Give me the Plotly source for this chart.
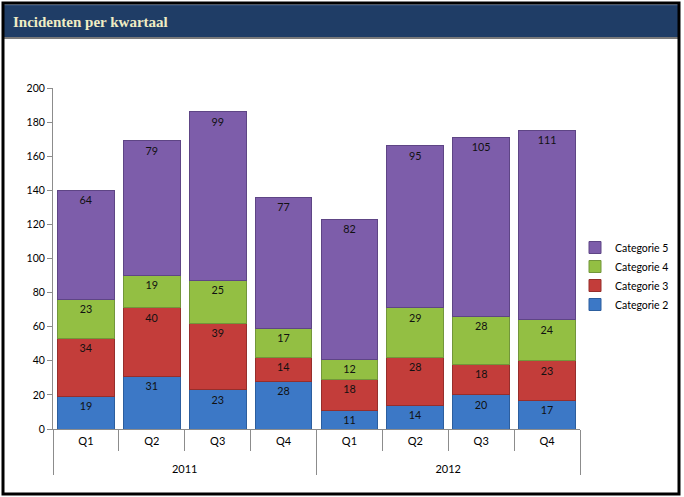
import plotly.graph_objects as go

years = ["2011"] * 4 + ["2012"] * 4
quarters = ["Q1", "Q2", "Q3", "Q4", "Q1", "Q2", "Q3", "Q4"]

cat2 = [19, 31, 23, 28, 11, 14, 20, 17]
cat3 = [34, 40, 39, 14, 18, 28, 18, 23]
cat4 = [23, 19, 25, 17, 12, 29, 28, 24]
cat5 = [64, 79, 99, 77, 82, 95, 105, 111]

series = [
    ("Categorie 2", cat2, "#3C78C6", "#2C5E9E"),
    ("Categorie 3", cat3, "#C33D3A", "#962E2B"),
    ("Categorie 4", cat4, "#93BF43", "#72963A"),
    ("Categorie 5", cat5, "#7D5DAA", "#5E4585"),
]

W, H = 684, 497
L, R, T, B = 53, 104, 88, 68
PW, PH = W - L - R, H - T - B


def px(x):
    return (x - L) / PW


def py(y):
    return (H - B - y) / PH


# outer level labels pushed one line lower, as in the reference
year_labels = ["<br>" + y for y in years]

fig = go.Figure()
for name, vals, col, edge in series:
    fig.add_trace(go.Bar(
        name=name,
        x=[year_labels, quarters],
        y=vals,
        text=[str(v) for v in vals],
        textposition="inside",
        insidetextanchor="end",
        textangle=0,
        textfont=dict(color="#111111", size=11, family="Lato, 'Open Sans', sans-serif"),
        marker=dict(color=col, line=dict(color=edge, width=1)),
        hoverinfo="skip",
    ))

fig.update_layout(
    barmode="stack",
    bargap=0.14,
    width=W,
    height=H,
    paper_bgcolor="white",
    plot_bgcolor="white",
    margin=dict(l=L, r=R, t=T, b=B, autoexpand=False),
    font=dict(family="Lato, 'Open Sans', sans-serif", size=11, color="#000000"),
    legend=dict(
        x=px(575), y=py(276), xanchor="left", yanchor="middle",
        traceorder="reversed",
        font=dict(size=10.5),
        itemwidth=30,
        bgcolor="rgba(0,0,0,0)",
    ),
    uniformtext=dict(minsize=8, mode="show"),
    showlegend=True,
)

fig.update_yaxes(
    range=[0, 200],
    dtick=20,
    showgrid=False,
    showline=True,
    linecolor="#8C8C8C",
    linewidth=1,
    ticks="outside",
    ticklen=5,
    tickcolor="#8C8C8C",
    tickfont=dict(size=10.5),
    zeroline=False,
    automargin=False,
)

fig.update_xaxes(
    type="multicategory",
    showline=True,
    linecolor="#8C8C8C",
    linewidth=1,
    ticks="outside",
    tickson="boundaries",
    ticklen=21,
    tickcolor="#8C8C8C",
    showdividers=True,
    dividercolor="#8C8C8C",
    dividerwidth=1,
    showgrid=False,
    tickfont=dict(size=11),
    ticklabelstandoff=2,
    automargin=False,
)

# Title banner
fig.add_shape(type="rect", xref="paper", yref="paper",
              x0=px(3), x1=px(679), y0=py(38), y1=py(5),
              fillcolor="#1F3D66", line=dict(color="#3E5F8A", width=1), layer="below")
fig.add_shape(type="line", xref="paper", yref="paper",
              x0=px(3), x1=px(679), y0=py(38), y1=py(38),
              line=dict(color="#7A7A7A", width=2))
# Outer frame
fig.add_shape(type="rect", xref="paper", yref="paper",
              x0=px(3), x1=px(679), y0=py(494), y1=py(3),
              line=dict(color="#000000", width=3), layer="above")

fig.add_annotation(
    text="<b>Incidenten per kwartaal</b>",
    xref="paper", yref="paper",
    x=px(11), y=py(22),
    xanchor="left", yanchor="middle",
    showarrow=False,
    font=dict(family="'Liberation Serif', 'DejaVu Serif', serif", size=15, color="#F0EDC4"),
)

fig.write_html(
    "out.html",
    config={"displayModeBar": False},
    post_script="document.body.style.margin='0';document.body.style.padding='0';",
)
